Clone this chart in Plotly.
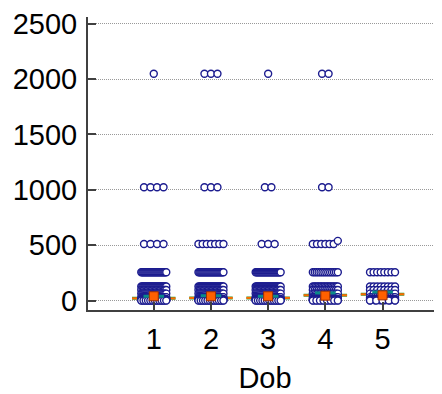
import plotly.graph_objects as go

categories = ["1", "2", "3", "4", "5"]
levels = [2048, 1024, 540, 512, 256, 128, 96, 64, 32, 16, 8, 4, 2]
counts_1 = [1, 4, 0, 4, 26, 26, 20, 24, 28, 28, 24, 16, 12]
counts_2 = [3, 3, 0, 7, 26, 26, 20, 24, 28, 28, 24, 16, 12]
counts_3 = [1, 2, 0, 3, 26, 26, 20, 24, 28, 28, 24, 16, 12]
counts_4 = [2, 2, 1, 6, 14, 18, 14, 18, 22, 22, 18, 12, 8]
counts_5 = [0, 0, 0, 0, 8, 8, 8, 8, 12, 12, 10, 6, 5]
all_counts = [counts_1, counts_2, counts_3, counts_4, counts_5]

median_vals = [40, 40, 40, 45, 48]      # orange squares
mean_vals = [40, 45, 40, 70, 78]        # teal lines
lower_vals = [21, 25, 25, 49, 58]       # green lines with orange caps

y_ticks = [0, 500, 1000, 1500, 2000, 2500]

# the page body adds an 8px offset, so the figure is sized to 442-8 x 394-8
W, H = 434, 386
ML, MR, MT, MB = 80, 0, 9, 84
XR = [-0.15, 6.04]
YR = [-84, 2560]
ppu = (W - ML - MR) / (XR[1] - XR[0])

NAVY = "#1c1c8f"
fig = go.Figure()

# green lines with orange caps (under the dots)
for i, v in enumerate(lower_vals):
    c = i + 1
    fig.add_trace(go.Scatter(x=[c - 0.38, c + 0.38], y=[v, v], mode="lines",
                             line=dict(color="#2e9e3a", width=3), hoverinfo="skip", showlegend=False))
    for a, b in [(c - 0.38, c - 0.29), (c + 0.29, c + 0.38)]:
        fig.add_trace(go.Scatter(x=[a, b], y=[v, v], mode="lines",
                                 line=dict(color="#ff6a00", width=2), hoverinfo="skip", showlegend=False))

# dots, arranged side by side per row
for i, cnts in enumerate(all_counts):
    c = i + 1
    rows = []
    for lv, n in zip(levels, cnts):
        if n == 0:
            continue
        vals = [lv] * n
        if rows and rows[-1][-1] / lv < 1.1:
            rows[-1] = rows[-1] + vals
        else:
            rows.append(vals)
    xs, ys = [], []
    for r in rows:
        r = sorted(r)
        n = len(r)
        sp = 6.5 if n < 2 else min(6.5, 25.0 / (n - 1))
        for k, v in enumerate(r):
            xs.append(c + (k - (n - 1) / 2) * sp / ppu)
            ys.append(v)
    fig.add_trace(go.Scatter(x=xs, y=ys, mode="markers",
                             marker=dict(symbol="circle", size=7, color="white",
                                         line=dict(color=NAVY, width=1.4)),
                             hoverinfo="skip", showlegend=False))

# teal lines
for i, v in enumerate(mean_vals):
    c = i + 1
    fig.add_trace(go.Scatter(x=[c - 0.18, c + 0.18], y=[v, v], mode="lines",
                             line=dict(color="#0a8a8a", width=3), hoverinfo="skip", showlegend=False))

# orange squares
fig.add_trace(go.Scatter(x=[1, 2, 3, 4, 5], y=median_vals, mode="markers",
                         marker=dict(symbol="square", size=9, color="#ff6000",
                                     line=dict(color="#a03000", width=1)),
                         hoverinfo="skip", showlegend=False))

FONT = "Liberation Sans, Arial, sans-serif"
fig.update_layout(
    width=W, height=H,
    margin=dict(l=ML, r=MR, t=MT, b=MB, autoexpand=False),
    paper_bgcolor="white", plot_bgcolor="white",
    font=dict(family=FONT, size=29, color="black"),
    xaxis=dict(range=XR, tickmode="array", tickvals=[1, 2, 3, 4, 5], ticktext=categories,
               automargin=False, ticklabeloverflow="allow",
               showgrid=False, zeroline=False, showline=True, linecolor="#404040", linewidth=2,
               ticks="inside", ticklen=8, tickwidth=2, tickcolor="#404040",
               ticklabelstandoff=2,
               title=dict(text="Dob", font=dict(size=29), standoff=20)),
    yaxis=dict(range=YR, tickmode="array", tickvals=y_ticks, automargin=False,
               ticklabeloverflow="allow",
               showgrid=True, gridcolor="#999999", griddash="1px,1px", gridwidth=1,
               zeroline=False, showline=True, linecolor="#404040", linewidth=2,
               ticks="inside", ticklen=8, tickwidth=2, tickcolor="#404040",
               ticklabelstandoff=3),
)

fig.write_html("out.html")
